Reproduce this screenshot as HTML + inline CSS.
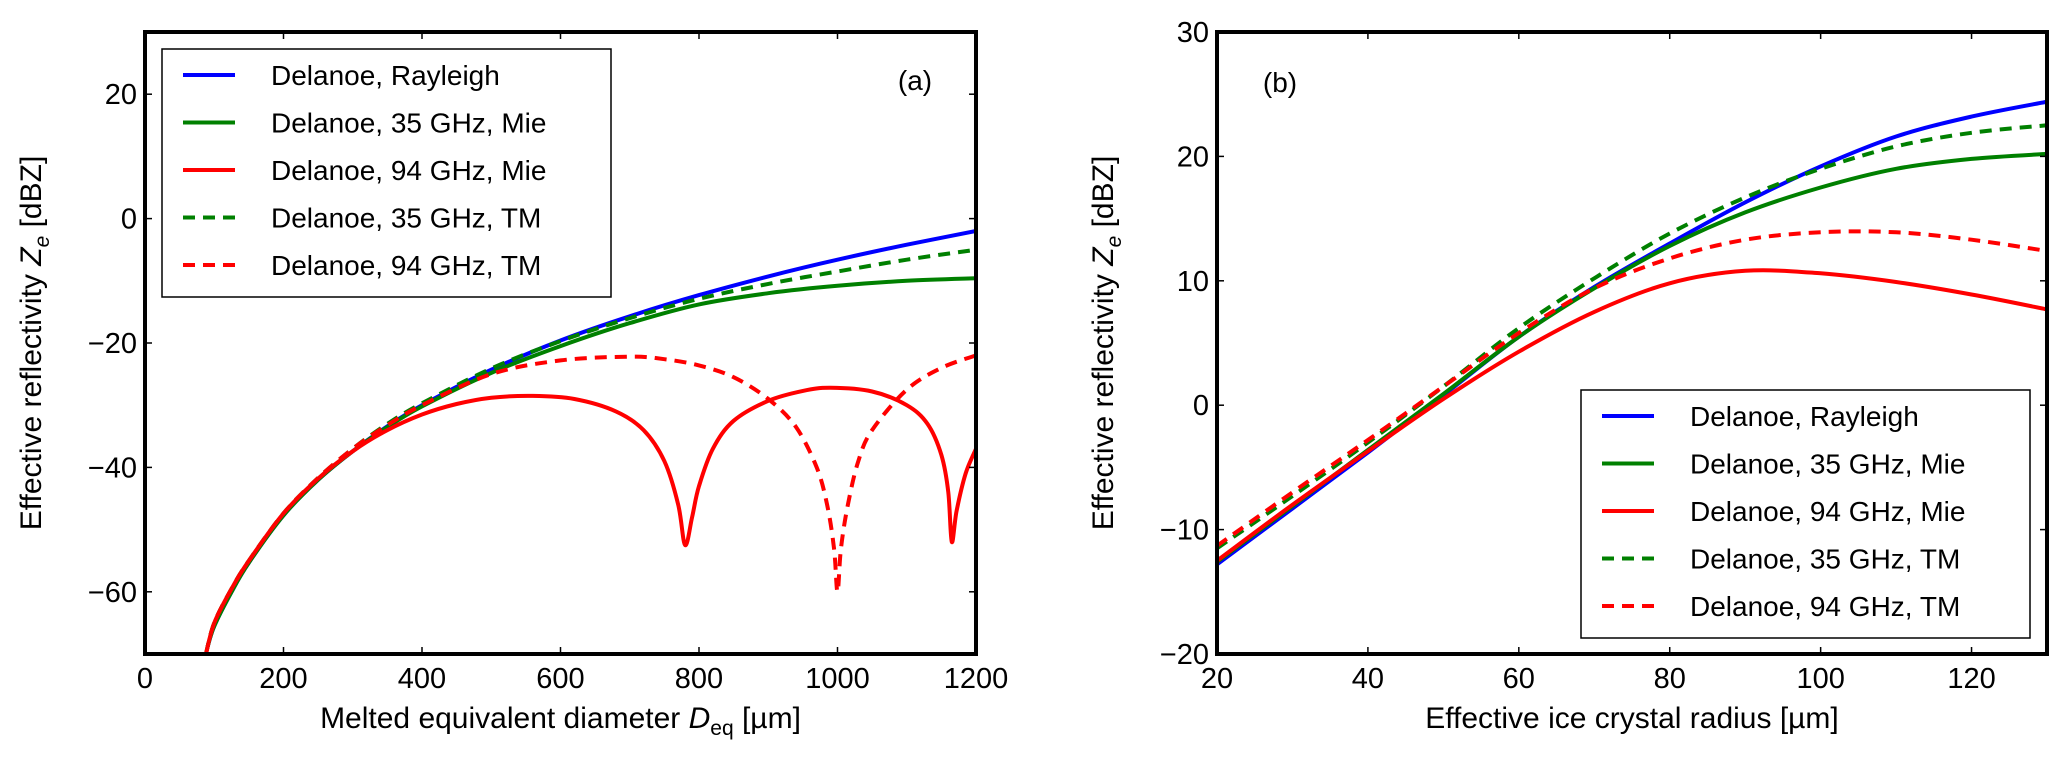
<!DOCTYPE html>
<html><head><meta charset="utf-8"><style>
body{margin:0;background:#fff;}
svg{display:block;font-family:"Liberation Sans",Arial,sans-serif;}
</style></head><body>
<svg id="fig" width="2067" height="759" viewBox="0 0 2067 759">
<defs>
<clipPath id="clipA"><rect x="145" y="32" width="831" height="622"/></clipPath>
<clipPath id="clipB"><rect x="1217" y="32" width="830" height="622"/></clipPath>
</defs>
<g id="panelA"></g>
<g id="panelB"></g>
</svg>
<script>
// Panel (a) data: melted equivalent diameter (µm) vs dBZ
const aRayX=[90,100,125,150,200,250,300,350,400,500,600,700,800,900,1000,1100,1200];
const aRayY=[-69,-65.5,-60,-55.3,-47.7,-42,-37.4,-33.4,-30,-24.3,-19.6,-15.7,-12.3,-9.3,-6.6,-4.2,-2];
const a35MieX=[90,100,125,150,200,250,300,350,400,500,600,700,800,900,1000,1100,1200];
const a35MieY=[-69,-65.5,-60,-55.3,-47.7,-42,-37.4,-33.5,-30.2,-24.8,-20.5,-16.8,-13.8,-12,-10.8,-10,-9.6];
const a94MieX=[88,100,125,150,200,250,300,350,400,450,500,560,620,680,720,750,770,780,790,800,820,850,900,950,990,1050,1100,1130,1150,1160,1165,1172,1185,1200];
const a94MieY=[-70,-65,-59.5,-55,-47.4,-41.8,-37.4,-34,-31.5,-29.8,-28.8,-28.5,-29,-31,-34,-39,-46,-52.5,-48,-43,-37,-32.5,-29.3,-27.7,-27.2,-27.8,-30,-33,-38,-44,-52,-47,-41,-37];
const a35TMX=[88,100,125,150,200,250,300,350,400,500,600,700,800,900,1000,1100,1200];
const a35TMY=[-70,-65,-59.5,-55,-47.4,-41.7,-37,-33,-29.7,-24.1,-19.7,-16,-12.9,-10.5,-8.5,-6.6,-5];
const a94TMX=[88,100,125,150,200,250,300,350,400,500,600,700,750,800,850,900,940,970,985,995,1000,1005,1015,1030,1050,1100,1150,1200];
const a94TMY=[-70,-65,-59.5,-55,-47.4,-41.7,-37,-33.2,-30,-25,-22.8,-22.2,-22.6,-23.6,-25.5,-29,-33.5,-40,-46,-53,-60,-53,-46,-39,-34,-27.5,-24,-22];
// Panel (b) data: effective ice crystal radius (µm) vs dBZ
const bX=[20,30,40,50,60,70,80,90,100,110,120,130];
const bRayY=[-12.8,-8.3,-3.8,0.8,5.5,9.5,13,16.3,19.2,21.6,23.2,24.4];
const b35MieY=[-12.6,-8.1,-3.6,0.9,5.5,9.4,12.8,15.5,17.5,19,19.8,20.2];
const b94MieY=[-12.5,-8,-3.7,0.5,4.3,7.5,9.8,10.8,10.6,9.9,8.9,7.7];
const b35TMY=[-11.5,-7.3,-3,1.5,6.2,10.2,13.8,16.7,19,20.8,21.9,22.5];
const b94TMY=[-11.3,-7,-2.8,1.5,5.8,9.4,11.8,13.3,13.9,13.9,13.3,12.4];
const aXTicks=[0,200,400,600,800,1000,1200];
const aYTicks=[20,0,-20,-40,-60];
const bXTicks=[20,40,60,80,100,120];
const bYTicks=[30,20,10,0,-10,-20];
const legendLabels=["Delanoe, Rayleigh","Delanoe, 35 GHz, Mie","Delanoe, 94 GHz, Mie","Delanoe, 35 GHz, TM","Delanoe, 94 GHz, TM"];

const NS="http://www.w3.org/2000/svg";
function mk(parent,tag,attrs){const e=document.createElementNS(NS,tag);for(const k in attrs)e.setAttribute(k,attrs[k]);parent.appendChild(e);return e;}
function fmt(v){return v<0?"\u2212"+(-v):String(v);}
const styles=[{c:"#0000ff",d:null},{c:"#008000",d:null},{c:"#ff0000",d:null},{c:"#008000",d:"12,8"},{c:"#ff0000",d:"12,8"}];

function smoothPath(pts){
  let d="M"+pts[0][0].toFixed(1)+","+pts[0][1].toFixed(1);
  for(let i=0;i<pts.length-1;i++){
    const p0=pts[i-1]||pts[i],p1=pts[i],p2=pts[i+1],p3=pts[i+2]||p2;
    const c1x=p1[0]+(p2[0]-p0[0])/6,c1y=p1[1]+(p2[1]-p0[1])/6;
    const c2x=p2[0]-(p3[0]-p1[0])/6,c2y=p2[1]-(p3[1]-p1[1])/6;
    d+="C"+c1x.toFixed(1)+","+c1y.toFixed(1)+" "+c2x.toFixed(1)+","+c2y.toFixed(1)+" "+p2[0].toFixed(1)+","+p2[1].toFixed(1);
  }
  return d;
}

function panel(g,cfg){
  const {L,T,R,B,x0,x1,y0,y1}=cfg;
  const sx=v=>L+(v-x0)/(x1-x0)*(R-L);
  const sy=v=>B-(v-y0)/(y1-y0)*(B-T);
  const series=mk(g,"g",{"clip-path":"url(#"+cfg.clip+")"});
  
  
  cfg.series.forEach((s,i)=>{
    const pts=s.x.map((xv,j)=>[sx(xv),sy(s.y[j])]);
    const p=mk(series,"path",{d:smoothPath(pts),fill:"none",stroke:styles[i].c,"stroke-width":4,"stroke-linejoin":"round"});
    if(styles[i].d)p.setAttribute("stroke-dasharray",styles[i].d);
    
    
  });
  cfg.xt.forEach(v=>{
    const x=sx(v);
    mk(g,"line",{x1:x,y1:B,x2:x,y2:B-7,stroke:"#000","stroke-width":1.5});
    mk(g,"line",{x1:x,y1:T,x2:x,y2:T+7,stroke:"#000","stroke-width":1.5});
    const t=mk(g,"text",{x:x,y:B+34,"font-size":29,"text-anchor":"middle"});t.textContent=fmt(v);
    
    
  });
  cfg.yt.forEach(v=>{
    const y=sy(v);
    mk(g,"line",{x1:L,y1:y,x2:L+7,y2:y,stroke:"#000","stroke-width":1.5});
    mk(g,"line",{x1:R,y1:y,x2:R-7,y2:y,stroke:"#000","stroke-width":1.5});
    const t=mk(g,"text",{x:L-8,y:y+10,"font-size":29,"text-anchor":"end"});t.textContent=fmt(v);
    
    
  });
  const fr=mk(g,"rect",{x:L,y:T,width:R-L,height:B-T,fill:"none",stroke:"#000","stroke-width":4});
  
  
  const lg=mk(g,"g",{});
  
  
  const lb=cfg.leg;
  mk(lg,"rect",{x:lb.x,y:lb.y,width:lb.w,height:lb.h,fill:"#fff",stroke:"#000","stroke-width":1.5});
  legendLabels.forEach((lab,i)=>{
    const y=lb.y0+i*47.5;
    const ln=mk(lg,"line",{x1:lb.x+21,y1:y,x2:lb.x+73,y2:y,stroke:styles[i].c,"stroke-width":4});
    if(styles[i].d)ln.setAttribute("stroke-dasharray","12,8");
    const t=mk(lg,"text",{x:lb.x+109,y:y+10,"font-size":28});t.textContent=lab;
    
    
  });
  const pl=mk(g,"text",{x:cfg.plx,y:cfg.ply,"font-size":28,"text-anchor":"middle"});pl.textContent=cfg.pl;
  
  
  const xt=mk(g,"text",{x:(L+R)/2,y:728,"font-size":30,"text-anchor":"middle"});xt.innerHTML=cfg.xtitle;
  
  
  const cy=(T+B)/2, cx=L-104;
  const yt=mk(g,"text",{x:cx,y:cy,"font-size":30,"text-anchor":"middle",transform:"rotate(-90 "+cx+" "+cy+")"});
  yt.innerHTML='Effective reflectivity <tspan font-style="italic">Z</tspan><tspan font-style="italic" font-size="21" dy="8">e</tspan><tspan dy="-8"> [dBZ]</tspan>';
  
  
}
panel(document.getElementById("panelA"),{L:145,T:32,R:976,B:654,x0:0,x1:1200,y0:-70,y1:30,clip:"clipA",
  series:[{name:"rayleigh-line",x:aRayX,y:aRayY},{name:"mie-35ghz-line",x:a35MieX,y:a35MieY},{name:"mie-94ghz-line",x:a94MieX,y:a94MieY},{name:"tm-35ghz-line",x:a35TMX,y:a35TMY},{name:"tm-94ghz-line",x:a94TMX,y:a94TMY}],
  xt:aXTicks,yt:aYTicks,leg:{x:162,y:49,w:449,h:248,y0:75},pl:"(a)",plx:915,ply:90,
  xtitle:'Melted equivalent diameter <tspan font-style="italic">D</tspan><tspan font-size="21" dy="7">eq</tspan><tspan dy="-7"> [µm]</tspan>'});
panel(document.getElementById("panelB"),{L:1217,T:32,R:2047,B:654,x0:20,x1:130,y0:-20,y1:30,clip:"clipB",
  series:[{name:"rayleigh-line",x:bX,y:bRayY},{name:"mie-35ghz-line",x:bX,y:b35MieY},{name:"mie-94ghz-line",x:bX,y:b94MieY},{name:"tm-35ghz-line",x:bX,y:b35TMY},{name:"tm-94ghz-line",x:bX,y:b94TMY}],
  xt:bXTicks,yt:bYTicks,leg:{x:1581,y:390,w:449,h:248,y0:416},pl:"(b)",plx:1280,ply:92,
  xtitle:'Effective ice crystal radius [µm]'});
</script>
</body></html>
